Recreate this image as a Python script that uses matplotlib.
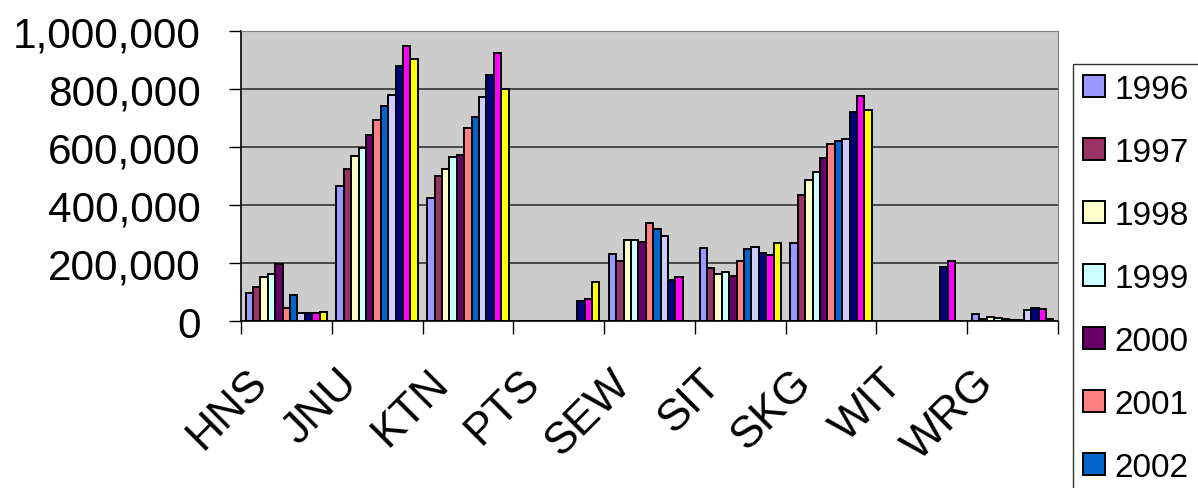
import matplotlib
matplotlib.use("Agg")
import matplotlib.pyplot as plt
import matplotlib.transforms as mtrans
from matplotlib.ticker import FuncFormatter
import numpy as np

plt.rcParams['font.family'] = ['Liberation Sans', 'DejaVu Sans']

sites = ['HNS', 'JNU', 'KTN', 'PTS', 'SEW', 'SIT', 'SKG', 'WIT', 'WRG']
years = ['1996', '1997', '1998', '1999', '2000', '2001', '2002',
         '2003', '2004', '2005', '2006']

# one list per year, values per site
v1996 = [96000, 465000, 425000, 0, 230000, 252000, 268000, 0, 25000]
v1997 = [116000, 525000, 500000, 0, 208000, 183000, 436000, 0, 8000]
v1998 = [152000, 569000, 525000, 0, 280000, 162000, 487000, 0, 13000]
v1999 = [161000, 598000, 567000, 0, 280000, 170000, 515000, 0, 12000]
v2000 = [196000, 642000, 574000, 0, 274000, 156000, 563000, 0, 7000]
v2001 = [46000, 692000, 667000, 0, 338000, 208000, 609000, 0, 5000]
v2002 = [89000, 742000, 705000, 0, 317000, 250000, 622000, 0, 5000]
v2003 = [27000, 778000, 771000, 0, 293000, 256000, 628000, 0, 39000]
v2004 = [27000, 879000, 850000, 68000, 143000, 234000, 719000, 186000, 46000]
v2005 = [29000, 950000, 923000, 77000, 153000, 229000, 775000, 207000, 42000]
v2006 = [32000, 905000, 799000, 135000, 0, 268000, 728000, 0, 6000]
series = [v1996, v1997, v1998, v1999, v2000, v2001, v2002,
          v2003, v2004, v2005, v2006]

colors = ['#9999FF', '#993366', '#FFFFCC', '#CCFFFF', '#660066', '#FF8080',
          '#0066CC', '#CCCCFF', '#000080', '#FF00FF', '#FFFF00']

fig = plt.figure(figsize=(11.98, 4.89), dpi=100)
ax = fig.add_axes([241/1198, 1-322/489, (1058-241)/1198, (322-32)/489])
ax.set_facecolor('#cccccc')

x = np.arange(len(sites))
w = 0.0815
n = len(series)
for i in range(n):
    off = (i - (n-1)/2) * w
    ax.bar(x + off, series[i], w, color=colors[i], edgecolor='black',
           linewidth=1.4, label=years[i], zorder=3)

ax.set_xlim(-0.5, len(sites)-0.5)
ax.set_ylim(0, 1000000)
ax.set_yticks(np.arange(0, 1000001, 200000))
ax.yaxis.set_major_formatter(FuncFormatter(lambda v, p: '{:,.0f}'.format(v)))
ax.yaxis.grid(True, color='#333333', linewidth=1.2, zorder=0)

ax.set_xticks(x)
ax.set_xticklabels(sites, rotation=45, ha='right', va='top',
                   rotation_mode='anchor', fontsize=32)
ax.set_xticks(np.arange(-0.5, len(sites)), minor=True)
ax.tick_params(axis='x', which='major', length=0, pad=29)
ax.tick_params(axis='x', which='minor', length=9, width=1, direction='out')
ax.tick_params(axis='y', length=9, width=1, direction='out', labelsize=30.5, pad=20)
shift = mtrans.ScaledTranslation(-40/100, 0, fig.dpi_scale_trans)
for lab in ax.get_xticklabels():
    lab.set_transform(lab.get_transform() + shift)

for s in ['top', 'right']:
    ax.spines[s].set_color('#808080')
for s in ['left', 'bottom']:
    ax.spines[s].set_color('black')
    ax.spines[s].set_linewidth(1.2)

leg = fig.legend(loc='upper left', bbox_to_anchor=(1073/1198, 1-65/489),
                 borderaxespad=0, fontsize=24, frameon=True, fancybox=False,
                 edgecolor='black', labelspacing=0.96, handlelength=0.65,
                 handleheight=0.65, handletextpad=0.3, borderpad=0.3)
leg.get_frame().set_linewidth(1.0)

fig.savefig('out.png', dpi=100)
